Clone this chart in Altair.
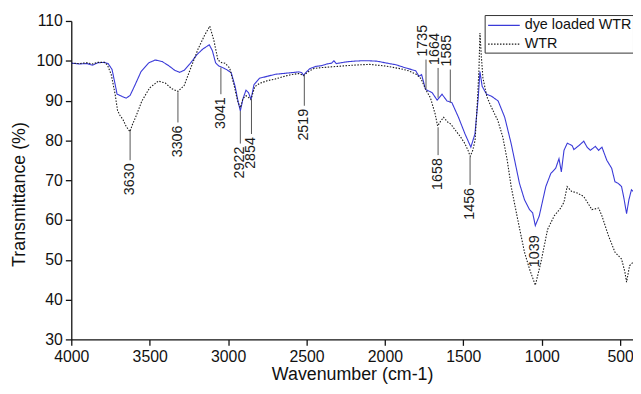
import altair as alt
import pandas as pd

# --- spectra (wavenumber cm-1, transmittance %) ---
blue_wn = [4000, 3950, 3900, 3865, 3830, 3790, 3765, 3740, 3720, 3708,
           3695, 3675, 3650, 3625, 3595, 3555, 3505, 3465, 3420, 3380,
           3340, 3310, 3280, 3240, 3200, 3160, 3120, 3100, 3080, 3060,
           3041, 3010, 2980, 2955, 2935, 2922, 2905, 2886, 2870, 2854,
           2835, 2800, 2750, 2700, 2650, 2600, 2550, 2530, 2519, 2505,
           2480, 2440, 2400, 2370, 2340, 2325, 2310, 2280, 2250, 2200,
           2150, 2100, 2050, 2000, 1930, 1867, 1804, 1783, 1766, 1741,
           1699, 1667, 1636, 1604, 1573, 1531, 1489, 1452, 1426, 1405,
           1394, 1380, 1352, 1320, 1278, 1236, 1195, 1142, 1110, 1078,
           1058, 1041, 1016, 974, 942, 911, 890, 875, 858, 837,
           806, 795, 763, 732, 711, 690, 658, 637, 616, 585,
           554, 533, 512, 491, 476, 459, 444, 428, 417]
blue_t = [99.4, 99.2, 99.3, 98.9, 99.5, 99.6, 99.3, 97.8, 94.0, 91.6,
          91.4, 91.0, 90.6, 91.3, 93.8, 97.3, 99.5, 100.2, 99.8, 98.8,
          97.6, 97.1, 97.6, 99.4, 101.5, 103.0, 104.0, 102.5, 99.5, 98.7,
          98.4, 97.8, 97.0, 93.5, 89.5, 87.4, 90.5, 92.6, 92.0, 90.3,
          94.0, 95.6, 96.1, 96.6, 96.8, 97.0, 97.2, 97.0, 96.3, 97.0,
          98.0, 98.6, 98.8, 99.2, 99.4, 100.0, 99.3, 99.5, 99.7, 99.9,
          100.0, 100.0, 99.9, 99.5, 99.0, 98.2, 97.5, 96.1, 96.5, 92.8,
          92.0, 90.1, 91.6, 89.9, 89.5, 85.8, 81.6, 78.3, 81.6, 90.7,
          97.3, 93.6, 91.6, 91.1, 89.9, 85.8, 79.2, 69.2, 65.1, 62.6,
          61.8, 58.6, 61.0, 68.4, 71.7, 73.0, 75.4, 72.1, 77.5, 79.3,
          78.7, 77.7, 78.7, 79.8, 78.3, 77.5, 78.5, 77.5, 78.3, 75.0,
          73.0, 69.6, 69.2, 68.4, 65.5, 61.6, 65.1, 67.6, 67.2]

wtr_wn = [4000, 3950, 3900, 3865, 3830, 3790, 3770, 3745, 3720, 3705,
          3690, 3670, 3650, 3626, 3610, 3590, 3550, 3500, 3445, 3400,
          3360, 3320, 3280, 3235, 3190, 3150, 3117, 3090, 3065, 3040,
          3020, 2990, 2960, 2940, 2922, 2905, 2885, 2870, 2854, 2830,
          2800, 2750, 2700, 2650, 2600, 2550, 2519, 2480, 2450, 2400,
          2300, 2200, 2100, 2000, 1900, 1850, 1800, 1770, 1740, 1710,
          1680, 1664, 1645, 1626, 1600, 1580, 1550, 1520, 1490, 1470,
          1456, 1440, 1425, 1410, 1400, 1394, 1385, 1375, 1350, 1330,
          1300, 1280, 1248, 1220, 1195, 1153, 1110, 1078, 1041, 1005,
          963, 921, 879, 858, 838, 810, 774, 732, 680, 637,
          616, 574, 533, 491, 470, 459, 440, 417]
wtr_t = [99.4, 99.3, 99.5, 99.2, 99.6, 99.6, 99.0, 96.5, 91.5, 87.5,
         86.3, 85.2, 83.5, 82.2, 84.0, 85.8, 89.9, 93.2, 94.9, 94.4,
         93.0, 92.3, 93.8, 98.5, 103.1, 106.4, 108.7, 105.0, 100.2, 99.5,
         99.4, 98.2, 93.5, 90.0, 88.2, 90.5, 91.2, 90.8, 90.3, 93.5,
         94.3, 95.0, 95.4, 96.0, 96.5, 96.8, 96.3, 97.5, 98.1, 98.3,
         98.6, 98.9, 99.1, 98.7, 98.0, 97.5, 96.6, 95.5, 92.8, 90.7,
         86.7, 83.6, 84.8, 85.8, 84.6, 84.1, 82.5, 81.0, 79.2, 77.5,
         76.0, 77.5, 80.0, 90.0, 98.2, 107.0, 101.0, 95.7, 91.0, 89.1,
         86.6, 85.0, 80.8, 75.0, 68.4, 60.1, 51.9, 47.7, 43.6, 49.4,
         57.6, 61.0, 63.0, 64.5, 68.4, 67.2, 66.8, 65.9, 62.6, 63.0,
         61.0, 56.0, 51.9, 50.2, 47.0, 44.4, 48.5, 49.4]

series_names = ["dye loaded WTR", "WTR"]
series_colors = ["#3a3ad8", "#1a1a1a"]

# --- peak annotations ---
peak_labels = ["3630", "3306", "3041", "2922", "2854", "2519", "1658", "1456",
               "1735", "1664", "1585", "1039"]
peak_pos = [3625, 3320, 3046, 2922, 2851, 2514, 1661, 1457,
            1738, 1661, 1583, 1041]
line_from = [82.5, 92.1, 98.3, 87.4, 90.3, 96.4, 83.3, 75.8,
             92.9, 90.7, 89.5, None]
line_to = [75.0, 84.5, 91.6, 79.2, 81.6, 88.7, 76.3, 68.8,
           100.3, 98.2, 97.8, 56.9]
label_side = ["below"] * 8 + ["above"] * 3 + ["below"]

x_ticks = [4000, 3500, 3000, 2500, 2000, 1500, 1000, 500]
y_ticks = [30, 40, 50, 60, 70, 80, 90, 100, 110]

spec = pd.concat([
    pd.DataFrame({"wn": blue_wn, "t": blue_t, "series": series_names[0]}),
    pd.DataFrame({"wn": wtr_wn, "t": wtr_t, "series": series_names[1]}),
], ignore_index=True)

ann = pd.DataFrame({"label": peak_labels, "pos": peak_pos, "y1": line_from,
                    "y2": line_to, "side": label_side})

FONT = "Liberation Sans"
x_scale = alt.Scale(domain=[4000, 418], nice=False, zero=False)
y_scale = alt.Scale(domain=[30, 110], nice=False, zero=False)

legend = alt.Legend(title=None, orient="none", legendX=418, legendY=-6,
                    symbolType="M-2,0H2", symbolSize=256, symbolStrokeWidth=1.2,
                    symbolOffset=9, labelOffset=12,
                    labelFont=FONT, labelFontSize=14.5, labelColor="#111",
                    padding=1.5, rowPadding=3,
                    strokeColor="#333", fillColor="white")

lines = alt.Chart(spec).mark_line(clip=True, strokeWidth=1.1).encode(
    x=alt.X("wn:Q", scale=x_scale,
            axis=alt.Axis(values=x_ticks, title="Wavenumber (cm-1)", format="d",
                          titleY=41, titleBaseline="alphabetic", labelPadding=3,
                          labelFlush=False)),
    y=alt.Y("t:Q", scale=y_scale,
            axis=alt.Axis(values=y_ticks, title="Transmittance (%)", format="d",
                          titleX=-47, titleY=175, titleBaseline="alphabetic",
                          titleAngle=270, labelPadding=3, labelFlush=False)),
    color=alt.Color("series:N", scale=alt.Scale(domain=series_names, range=series_colors),
                    legend=legend),
    strokeDash=alt.StrokeDash("series:N",
                              scale=alt.Scale(domain=series_names, range=[[1, 0], [1.5, 1.5]]),
                              legend=legend),
)

rules = alt.Chart(ann).transform_filter("isValid(datum.y1)").mark_rule(
    color="#555", strokeWidth=1).encode(
    x=alt.X("pos:Q", scale=x_scale),
    y=alt.Y("y1:Q", scale=y_scale),
    y2="y2:Q",
)

text_below = alt.Chart(ann).transform_filter("datum.side == 'below'").mark_text(
    angle=270, align="right", baseline="middle", dx=-3, font=FONT, fontSize=14.5,
    color="#1a1a1a").encode(
    x=alt.X("pos:Q", scale=x_scale),
    y=alt.Y("y2:Q", scale=y_scale),
    text="label:N",
)

text_above = alt.Chart(ann).transform_filter("datum.side == 'above'").mark_text(
    angle=270, align="left", baseline="middle", dx=3, dy=-3, font=FONT, fontSize=14.5,
    color="#1a1a1a").encode(
    x=alt.X("pos:Q", scale=x_scale),
    y=alt.Y("y2:Q", scale=y_scale),
    text="label:N",
)

chart = alt.layer(lines, rules, text_below, text_above).properties(
    width=568, height=322,
    padding={"left": 64, "top": 11, "right": 0, "bottom": 45},
    autosize=alt.AutoSizeParams(type="none"),
).configure_view(stroke="transparent").configure_axis(
    grid=False, domainColor="#111", domainWidth=1.3, tickColor="#111", tickWidth=1.3,
    tickSize=6, labelFont=FONT, labelFontSize=16, labelColor="#111",
    titleFont=FONT, titleFontSize=18, titleFontWeight="normal", titleColor="#111",
)

chart.save("out.html", embed_options={"renderer": "svg", "actions": False})
